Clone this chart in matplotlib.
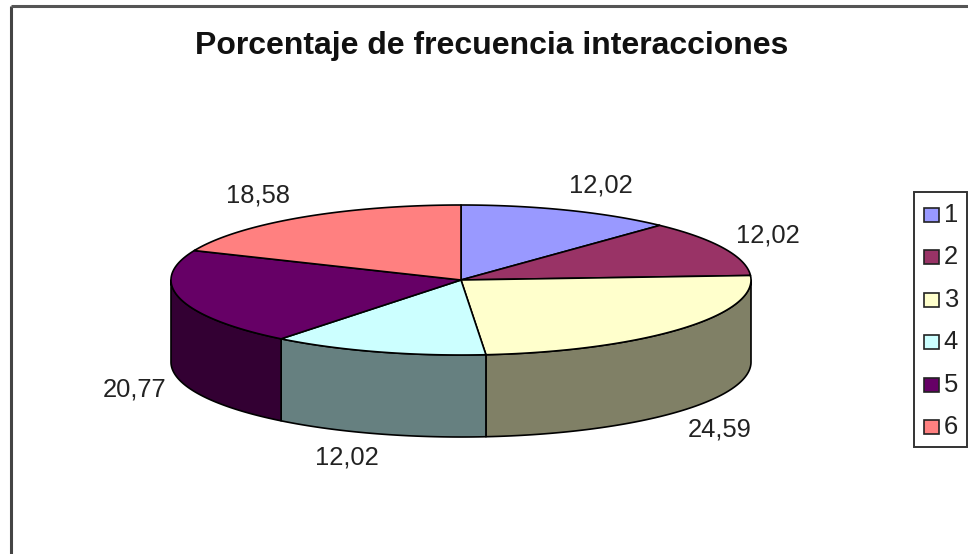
import numpy as np
import matplotlib
matplotlib.use("Agg")
import matplotlib.pyplot as plt
from matplotlib.patches import Rectangle

TITLE = "Porcentaje de frecuencia interacciones"
categories = ["1", "2", "3", "4", "5", "6"]
values = [12.02, 12.02, 24.59, 12.02, 20.77, 18.58]
value_labels = ["12,02", "12,02", "24,59", "12,02", "20,77", "18,58"]
colors = ["#9999FF", "#993366", "#FFFFCC", "#CCFFFF", "#660066", "#FF8080"]
side_colors = ["#4D4D80", "#4D1A33", "#808066", "#668080", "#330033", "#804040"]
label_pos = [(601, 185), (768, 235), (720, 429), (347, 458), (135, 389), (258, 195)]

W, H = 968, 554
plt.rcParams["font.family"] = ["Liberation Sans", "DejaVu Sans"]
fig = plt.figure(figsize=(W / 100, H / 100), dpi=100)
ax = fig.add_axes([0, 0, 1, 1])
ax.set_xlim(0, W)
ax.set_ylim(H, 0)
ax.axis("off")

cx, cy, rx, ry, depth = 461, 280, 290, 75, 82
LW = 1.2


def rim(a0, a1, n=120):
    t = np.linspace(a0, a1, n)
    return cx + rx * np.sin(t), cy - ry * np.cos(t)


# chart frame
ax.plot([11, 11], [H, 6], color="#444444", lw=2.2, solid_capstyle="butt")
ax.plot([11, W], [6, 6], color="#555555", lw=2.2, solid_capstyle="butt")

edges = np.concatenate([[0], np.cumsum(values) / np.sum(values) * 2 * np.pi])

# sides (only the front half of the ellipse is visible)
for i in range(len(values)):
    a0 = max(edges[i], np.pi / 2)
    a1 = min(edges[i + 1], 3 * np.pi / 2)
    if a1 <= a0:
        continue
    x, y = rim(a0, a1)
    ax.fill(np.r_[x, x[::-1]], np.r_[y, y[::-1] + depth],
            facecolor=side_colors[i], edgecolor="black", lw=LW, joinstyle="round")

# top faces
for i in range(len(values)):
    x, y = rim(edges[i], edges[i + 1])
    ax.fill(np.r_[cx, x], np.r_[cy, y],
            facecolor=colors[i], edgecolor="black", lw=LW, joinstyle="round")

ax.text(492, 46, TITLE, ha="center", va="center", fontsize=23, fontweight="bold", color="#111111")

for (lx, ly), s in zip(label_pos, value_labels):
    ax.text(lx, ly, s, ha="center", va="center", fontsize=18.4, color="#222222")

# legend
ax.add_patch(Rectangle((914, 192), 53, 255, facecolor="white", edgecolor="#333333", lw=1.4))
for i, c in enumerate(categories):
    yc = 215 + i * 42.4
    ax.add_patch(Rectangle((924, yc - 7), 15, 14, facecolor=colors[i], edgecolor="#222222", lw=1.2))
    ax.text(951, yc, c, ha="center", va="center", fontsize=18.4, color="#222222")

fig.savefig("out.png", dpi=100, facecolor="white")
